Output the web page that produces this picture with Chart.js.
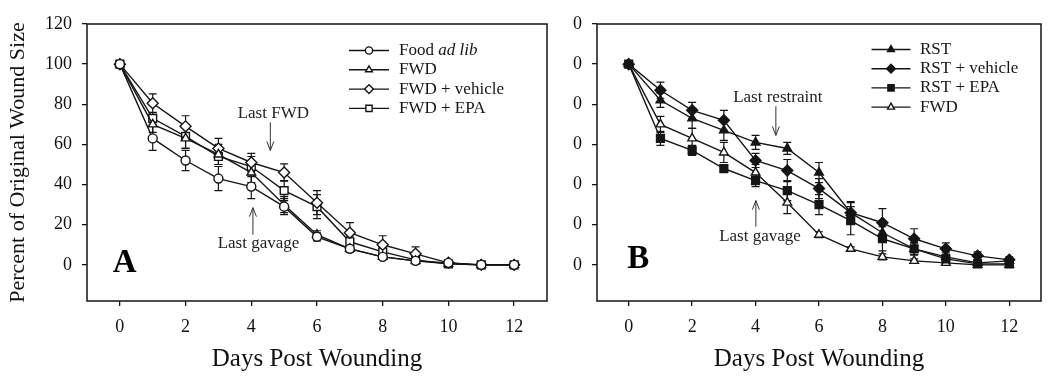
<!DOCTYPE html>
<html>
<head>
<meta charset="utf-8">
<script src="https://cdn.jsdelivr.net/npm/chart.js@4.4.1/dist/chart.umd.min.js"></script>
<style>
  body { margin: 0; background: #fff; width: 1050px; height: 382px; overflow: hidden; position: relative; }
  .panel { position: absolute; top: 0; height: 382px; }
  #boxA { left: 0; width: 560px; }
  #boxB { left: 560px; width: 490px; }
</style>
</head>
<body>
<div class="panel" id="boxA"><canvas id="chartA"></canvas></div>
<div class="panel" id="boxB"><canvas id="chartB"></canvas></div>
<script>
// === DATA ===
const days = [0, 1, 2, 3, 4, 5, 6, 7, 8, 9, 10, 11, 12];
const xTicks = [0, 2, 4, 6, 8, 10, 12];
const yTicks = [0, 20, 40, 60, 80, 100, 120];

// panel A
const foodAdLib     = [100, 63, 52, 43, 39, 29, 14, 8, 4, 2, 1, 0, 0];
const foodAdLibErr  = [0, 6, 5, 6, 6, 4, 2, 1.5, 1, 0.5, 0.5, 0, 0];
const fwdA          = [100, 70, 63, 55, 46, 30, 15, 8, 4, 2, 0.5, 0, 0];
const fwdAErr       = [0, 4, 5, 5, 5, 4, 2, 1.5, 1, 0.5, 0.5, 0, 0];
const fwdVehicle    = [100, 80.5, 69, 58, 51, 46, 31, 16, 10, 5.5, 1, 0, 0];
const fwdVehicleErr = [0, 4.7, 5.3, 5, 4.5, 4.3, 6, 5, 4.5, 3.5, 1, 0.5, 0.5];
const fwdEpa        = [100, 73, 64, 54, 49, 37, 29, 11.5, 6.5, 2.5, 0.5, 0, 0];
const fwdEpaErr     = [0, 3, 6, 4, 5, 5, 6, 2.5, 1.5, 1, 0.5, 0, 0];

// panel B
const rst           = [100, 82, 73, 67, 61, 58, 46, 26, 16, 8, 4, 1, 2];
const rstErr        = [0, 3.5, 5, 5, 3.5, 3, 5, 5, 4, 3, 2, 1, 1];
const rstVehicle    = [100, 87, 77, 72, 52, 47, 38, 26, 21, 13, 8, 4.5, 2.5];
const rstVehicleErr = [0, 4, 4, 5, 3.5, 5.5, 5, 5.5, 7, 5, 3, 2, 1.5];
const rstEpa        = [100, 63, 57, 48, 42, 37, 30, 22, 13, 8, 3, 0.5, 0.5];
const rstEpaErr     = [0, 3.5, 2.5, 2, 3, 5, 5, 7, 6, 3, 2, 0.5, 0.5];
const fwdB          = [100, 70, 63, 56, 46, 31, 15, 8, 4, 2, 1, 0, 0];
const fwdBErr       = [0, 4, 5, 5, 4, 5.5, 1.5, 1, 1.5, 1, 0.5, 0, 0];

const INK = '#151515';
const SERIF = "'Liberation Serif', 'Times New Roman', serif";

function series(label, values, errors, style, radius, filled) {
    return {
        label, data: values, errors,
        borderColor: INK, borderWidth: 1.4,
        pointStyle: style, pointRadius: radius, pointHoverRadius: radius,
        pointBackgroundColor: filled ? INK : '#fff', pointBorderColor: INK, pointBorderWidth: 1.4,
        tension: 0, fill: false
    };
}

// === EXTRAS: frame, error bars, legend, notes, panel letter ===
const extras = {
    id: 'extras',
    beforeDatasetsDraw(chart) {
        const ctx = chart.ctx, y = chart.scales.y;
        ctx.save();
        ctx.strokeStyle = INK; ctx.lineWidth = 1.2;
        chart.data.datasets.forEach((ds, i) => {
            const meta = chart.getDatasetMeta(i);
            (ds.errors || []).forEach((e, j) => {
                if (!e) return;
                const px = meta.data[j].x;
                const top = y.getPixelForValue(ds.data[j] + e);
                const bot = y.getPixelForValue(ds.data[j] - e);
                ctx.beginPath();
                ctx.moveTo(px, top); ctx.lineTo(px, bot);
                ctx.moveTo(px - 4, top); ctx.lineTo(px + 4, top);
                ctx.moveTo(px - 4, bot); ctx.lineTo(px + 4, bot);
                ctx.stroke();
            });
        });
        ctx.restore();
    },
    afterDraw(chart, args, opts) {
        const ctx = chart.ctx, a = chart.chartArea, xs = chart.scales.x, ys = chart.scales.y;
        ctx.save();
        // frame
        ctx.strokeStyle = INK; ctx.lineWidth = 1.5;
        ctx.strokeRect(a.left, a.top, a.right - a.left, a.bottom - a.top);

        // legend
        const L = opts.legend;
        chart.data.datasets.forEach((ds, i) => {
            const yy = L.y + i * L.row;
            ctx.strokeStyle = INK; ctx.lineWidth = 1.4;
            ctx.beginPath(); ctx.moveTo(L.x, yy); ctx.lineTo(L.x + L.len, yy); ctx.stroke();
            ctx.fillStyle = ds.pointBackgroundColor;
            Chart.helpers.drawPoint(ctx, { pointStyle: ds.pointStyle, radius: ds.pointRadius * 0.8, borderWidth: 1.2, rotation: 0 }, L.x + L.len / 2, yy);
            ctx.fillStyle = INK; ctx.textBaseline = 'middle'; ctx.textAlign = 'left';
            let tx = L.x + L.len + L.gap;
            (L.parts[i] || [[ds.label, false]]).forEach(([t, it]) => {
                ctx.font = (it ? 'italic ' : '') + '17px ' + SERIF;
                ctx.fillText(t, tx, yy);
                tx += ctx.measureText(t).width;
            });
        });

        // notes with arrows
        ctx.font = '17px ' + SERIF; ctx.textAlign = 'center'; ctx.textBaseline = 'middle';
        opts.notes.forEach(n => {
            ctx.fillStyle = '#222';
            ctx.fillText(n.text, xs.getPixelForValue(n.x), ys.getPixelForValue(n.y));
            const ax = xs.getPixelForValue(n.ax);
            const y0 = ys.getPixelForValue(n.from), y1 = ys.getPixelForValue(n.to);
            const dir = y1 > y0 ? 1 : -1;
            ctx.strokeStyle = '#333'; ctx.lineWidth = 1;
            ctx.beginPath();
            ctx.moveTo(ax, y0); ctx.lineTo(ax, y1);
            ctx.moveTo(ax - 3.5, y1 - dir * 9); ctx.lineTo(ax, y1); ctx.lineTo(ax + 3.5, y1 - dir * 9);
            ctx.stroke();
        });

        // panel letter
        ctx.font = 'bold 33px ' + SERIF; ctx.fillStyle = '#000';
        ctx.fillText(opts.letter.text, xs.getPixelForValue(opts.letter.x), ys.getPixelForValue(opts.letter.y));
        ctx.restore();
    }
};

function makeChart(id, datasets, cfg) {
    return new Chart(document.getElementById(id), {
        type: 'line',
        data: { labels: days, datasets },
        options: {
            responsive: true, maintainAspectRatio: false, animation: false,
            layout: { padding: { top: 24, right: cfg.padRight, left: 0, bottom: 0 } },
            plugins: {
                legend: { display: false }, tooltip: { enabled: false },
                extras: { legend: cfg.legend, notes: cfg.notes, letter: cfg.letter }
            },
            scales: {
                x: {
                    type: 'linear', min: -1, max: 13,
                    afterBuildTicks: s => { s.ticks = xTicks.map(v => ({ value: v })); },
                    afterFit: s => { s.height = 81; },
                    border: { display: false },
                    grid: { drawOnChartArea: false, drawTicks: true, tickLength: 5, color: INK, lineWidth: 1.3 },
                    ticks: { color: '#111', font: { family: SERIF, size: 18 }, padding: 10, maxRotation: 0 },
                    title: { display: true, text: 'Days Post Wounding', color: '#111', font: { family: SERIF, size: 25 }, padding: { top: 0, bottom: 8 } }
                },
                y: {
                    min: -18, max: 120,
                    afterBuildTicks: s => { s.ticks = yTicks.map(v => ({ value: v })); },
                    afterFit: s => { s.width = cfg.yWidth; },
                    border: { display: false },
                    grid: { drawOnChartArea: false, drawTicks: true, tickLength: 5, color: INK, lineWidth: 1.3 },
                    ticks: { color: '#111', font: { family: SERIF, size: 18 }, padding: 10, callback: cfg.yLabel },
                    title: { display: cfg.yTitle, text: 'Percent of Original Wound Size', color: '#111', font: { family: SERIF, size: 22 }, padding: { top: 5, bottom: 0 } }
                }
            }
        },
        plugins: [extras]
    });
}

makeChart('chartA', [
    series('Food ad lib', foodAdLib, foodAdLibErr, 'circle', 4.5, false),
    series('FWD', fwdA, fwdAErr, 'triangle', 5, false),
    series('FWD + vehicle', fwdVehicle, fwdVehicleErr, 'rectRot', 5.5, false),
    series('FWD + EPA', fwdEpa, fwdEpaErr, 'rect', 5.5, false)
], {
    padRight: 13, yWidth: 87, yTitle: true, yLabel: v => String(v),
    legend: { x: 349, y: 50.5, row: 19.3, len: 40, gap: 10, parts: [[['Food ', false], ['ad lib', true]]] },
    notes: [
        { text: 'Last FWD', x: 4.67, y: 75.5, ax: 4.58, from: 71, to: 57 },
        { text: 'Last gavage', x: 4.22, y: 10.5, ax: 4.05, from: 15, to: 28.5 }
    ],
    letter: { text: 'A', x: 0.15, y: 0.5 }
});

makeChart('chartB', [
    series('RST', rst, rstErr, 'triangle', 5, true),
    series('RST + vehicle', rstVehicle, rstVehicleErr, 'rectRot', 5.5, true),
    series('RST + EPA', rstEpa, rstEpaErr, 'rect', 5.5, true),
    series('FWD', fwdB, fwdBErr, 'triangle', 5, false)
], {
    padRight: 9, yWidth: 37, yTitle: false, yLabel: v => String(v).slice(-1),
    legend: { x: 311.5, y: 49.5, row: 19.2, len: 39, gap: 9.5, parts: [] },
    notes: [
        { text: 'Last restraint', x: 4.7, y: 83.5, ax: 4.64, from: 79, to: 64.5 },
        { text: 'Last gavage', x: 4.14, y: 14.1, ax: 4.01, from: 19, to: 32 }
    ],
    letter: { text: 'B', x: 0.3, y: 2.5 }
});
</script>
</body>
</html>
